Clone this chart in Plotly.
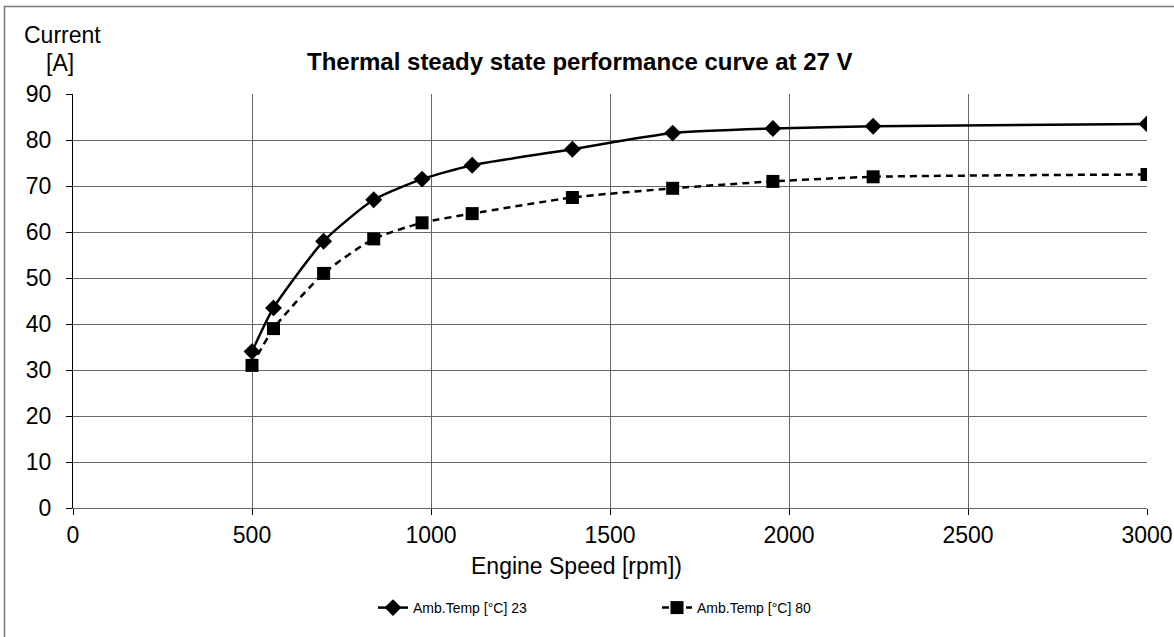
import plotly.graph_objects as go

speed = [500, 560, 700, 840, 975, 1115, 1395, 1675, 1955, 2235, 3000]
current_23 = [34, 43.5, 58, 67, 71.5, 74.5, 78, 81.5, 82.5, 83, 83.5]
current_80 = [31, 39, 51, 58.5, 62, 64, 67.5, 69.5, 71, 72, 72.5]
x_ticks = [0, 500, 1000, 1500, 2000, 2500, 3000]
y_ticks = [0, 10, 20, 30, 40, 50, 60, 70, 80, 90]

FONT = "Liberation Sans, Arial, sans-serif"
L, R, T, B = 73, 1147, 94, 508
W, H = 1174, 637


def px_to_paper_x(px):
    return (px - L) / (R - L)


def px_to_paper_y(py):
    return (B - py) / (B - T)


fig = go.Figure()
fig.add_trace(go.Scatter(
    x=speed, y=current_23, name="Amb.Temp [°C] 23", mode="lines+markers",
    line=dict(color="black", width=2.5, shape="spline", smoothing=0.6),
    marker=dict(symbol="diamond", size=13, color="black"),
))
fig.add_trace(go.Scatter(
    x=speed, y=current_80, name="Amb.Temp [°C] 80", mode="lines+markers",
    line=dict(color="black", width=2.5, dash="7px,5px", shape="spline", smoothing=0.6),
    marker=dict(symbol="square", size=13, color="black"),
))

fig.update_layout(
    width=W, height=H,
    margin=dict(l=L, r=W - R, t=T, b=H - B, pad=0, autoexpand=False),
    paper_bgcolor="white", plot_bgcolor="white",
    font=dict(family=FONT, size=23, color="black"),
    showlegend=True,
    legend=dict(orientation="h", x=px_to_paper_x(373), xanchor="left",
                y=px_to_paper_y(608), yanchor="middle",
                font=dict(size=14), traceorder="normal",
                entrywidth=239, entrywidthmode="pixels"),
    xaxis=dict(range=[0, 3000], tickvals=x_ticks, showgrid=True, gridcolor="#666666", gridwidth=1,
               showline=True, linecolor="#666666", ticks="outside", ticklen=6, tickcolor="black",
               ticklabelstandoff=0, automargin=False, zeroline=False),
    yaxis=dict(range=[0, 90], tickvals=y_ticks, showgrid=True, gridcolor="#666666", gridwidth=1,
               showline=True, linecolor="black", ticks="outside", ticklen=6, tickcolor="black",
               ticklabelstandoff=10, automargin=False, zeroline=False),
    annotations=[
        dict(text="<b>Thermal steady state performance curve at 27 V</b>",
             x=px_to_paper_x(580), y=px_to_paper_y(61), xref="paper", yref="paper",
             showarrow=False, font=dict(size=24), xanchor="center", yanchor="middle"),
        dict(text="Current", x=px_to_paper_x(62), y=px_to_paper_y(35), xref="paper", yref="paper",
             showarrow=False, font=dict(size=23), xanchor="center", yanchor="middle"),
        dict(text="[A]", x=px_to_paper_x(60), y=px_to_paper_y(63), xref="paper", yref="paper",
             showarrow=False, font=dict(size=23), xanchor="center", yanchor="middle"),
        dict(text="Engine Speed [rpm])", x=px_to_paper_x(576), y=px_to_paper_y(566),
             xref="paper", yref="paper", showarrow=False, font=dict(size=23),
             xanchor="center", yanchor="middle"),
    ],
)

fig.add_shape(type="rect", xref="paper", yref="paper",
              x0=px_to_paper_x(4.5), x1=px_to_paper_x(1200),
              y0=px_to_paper_y(660), y1=px_to_paper_y(6.5),
              line=dict(color="#777777", width=1.5), layer="below")

fig.write_html("out.html", config={"displayModeBar": False},
               post_script="document.body.style.margin='0';")
